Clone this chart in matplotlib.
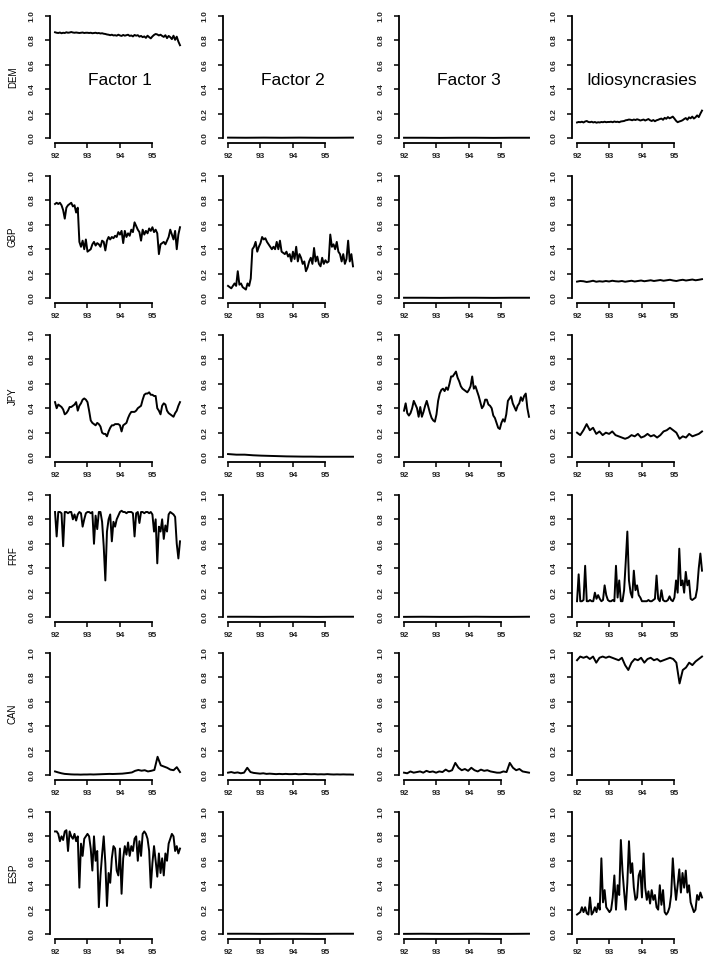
import numpy as np
import matplotlib
matplotlib.use("Agg")
import matplotlib.pyplot as plt

plt.rcParams["font.family"] = ["Liberation Sans", "DejaVu Sans"]

# ---------------------------------------------------------------------------
# data: variance shares 1992 .. end of 1995, one list per panel
# (long lists are sampled every 0.05 year, short ones are coarser)
# ---------------------------------------------------------------------------
currencies = ["DEM", "GBP", "JPY", "FRF", "CAN", "ESP"]
col_titles = ["Factor 1", "Factor 2", "Factor 3", "Idiosyncrasies"]
year_ticks = [92, 93, 94, 95]
year_labels = ["92", "93", "94", "95"]
value_ticks = [0.0, 0.2, 0.4, 0.6, 0.8, 1.0]
value_labels = ["0.0", "0.2", "0.4", "0.6", "0.8", "1.0"]
t_start, t_end = 92.0, 95.85

dem_f1 = [0.866, 0.862, 0.860, 0.864, 0.858, 0.862, 0.860, 0.866, 0.862, 0.864,
          0.868, 0.864, 0.862, 0.864, 0.862, 0.860, 0.862, 0.864, 0.860, 0.862,
          0.862, 0.860, 0.862, 0.858, 0.860, 0.862, 0.858, 0.860, 0.856, 0.858,
          0.854, 0.852, 0.848, 0.846, 0.842, 0.846, 0.840, 0.842, 0.838, 0.846,
          0.840, 0.836, 0.844, 0.838, 0.842, 0.846, 0.836, 0.840, 0.832, 0.844,
          0.838, 0.842, 0.830, 0.836, 0.826, 0.832, 0.820, 0.838, 0.826, 0.816,
          0.832, 0.844, 0.852, 0.848, 0.840, 0.846, 0.836, 0.828, 0.842, 0.818,
          0.836, 0.826, 0.810, 0.838, 0.804, 0.830, 0.790, 0.760]
dem_f2 = [0.004, 0.003, 0.004, 0.003, 0.004, 0.003, 0.003, 0.004]
dem_f3 = [0.003, 0.003, 0.002, 0.003, 0.003, 0.002, 0.003, 0.003]
dem_id = [0.128, 0.132, 0.130, 0.134, 0.128, 0.136, 0.140, 0.132, 0.130, 0.134,
          0.128, 0.132, 0.126, 0.130, 0.128, 0.132, 0.130, 0.134, 0.130, 0.132,
          0.132, 0.134, 0.130, 0.136, 0.132, 0.134, 0.130, 0.136, 0.138, 0.140,
          0.146, 0.148, 0.152, 0.150, 0.146, 0.152, 0.148, 0.154, 0.150, 0.144,
          0.148, 0.152, 0.144, 0.150, 0.156, 0.146, 0.140, 0.148, 0.138, 0.146,
          0.150, 0.156, 0.160, 0.150, 0.166, 0.158, 0.172, 0.162, 0.168, 0.176,
          0.160, 0.142, 0.130, 0.136, 0.140, 0.146, 0.156, 0.164, 0.150, 0.170,
          0.162, 0.176, 0.160, 0.170, 0.186, 0.172, 0.200, 0.225]

gbp_f1 = [0.77, 0.78, 0.77, 0.78, 0.76, 0.72, 0.65, 0.74, 0.76, 0.77,
          0.78, 0.75, 0.76, 0.70, 0.74, 0.46, 0.42, 0.47, 0.40, 0.48,
          0.38, 0.39, 0.40, 0.44, 0.46, 0.43, 0.45, 0.44, 0.42, 0.47,
          0.46, 0.39, 0.47, 0.50, 0.48, 0.50, 0.49, 0.51, 0.50, 0.54,
          0.52, 0.55, 0.45, 0.55, 0.50, 0.53, 0.51, 0.56, 0.54, 0.62,
          0.59, 0.56, 0.54, 0.47, 0.56, 0.52, 0.55, 0.53, 0.57, 0.55,
          0.58, 0.54, 0.56, 0.53, 0.36, 0.44, 0.45, 0.46, 0.44, 0.47,
          0.50, 0.56, 0.52, 0.48, 0.55, 0.40, 0.52, 0.58]
gbp_f2 = [0.10, 0.09, 0.08, 0.10, 0.12, 0.10, 0.22, 0.11, 0.12, 0.09,
          0.08, 0.07, 0.12, 0.10, 0.16, 0.40, 0.42, 0.46, 0.38, 0.42,
          0.45, 0.50, 0.48, 0.49, 0.46, 0.44, 0.42, 0.40, 0.42, 0.40,
          0.46, 0.40, 0.47, 0.38, 0.37, 0.36, 0.38, 0.34, 0.36, 0.30,
          0.38, 0.32, 0.42, 0.30, 0.36, 0.33, 0.28, 0.30, 0.22, 0.25,
          0.30, 0.33, 0.28, 0.41, 0.30, 0.34, 0.28, 0.26, 0.33, 0.28,
          0.31, 0.29, 0.30, 0.52, 0.42, 0.44, 0.40, 0.46, 0.38, 0.36,
          0.30, 0.36, 0.28, 0.32, 0.47, 0.30, 0.36, 0.26]
gbp_f3 = [0.003, 0.003, 0.002, 0.003, 0.003, 0.002, 0.003, 0.003]
gbp_id = [0.135, 0.140, 0.138, 0.132, 0.136, 0.142, 0.134, 0.138, 0.135, 0.140,
          0.136, 0.142, 0.138, 0.136, 0.140, 0.134, 0.138, 0.142, 0.136, 0.140,
          0.144, 0.138, 0.142, 0.146, 0.140, 0.144, 0.148, 0.142, 0.146, 0.150,
          0.144, 0.140, 0.146, 0.150, 0.144, 0.148, 0.152, 0.146, 0.150, 0.155]

jpy_f1 = [0.45, 0.40, 0.43, 0.42, 0.41, 0.39, 0.35, 0.36, 0.38, 0.41,
          0.41, 0.42, 0.43, 0.45, 0.38, 0.42, 0.44, 0.47, 0.48, 0.47,
          0.45, 0.38, 0.30, 0.28, 0.27, 0.26, 0.28, 0.27, 0.25, 0.20,
          0.19, 0.19, 0.17, 0.21, 0.24, 0.26, 0.26, 0.27, 0.27, 0.27,
          0.26, 0.21, 0.26, 0.27, 0.28, 0.32, 0.35, 0.37, 0.37, 0.37,
          0.38, 0.40, 0.41, 0.42, 0.47, 0.51, 0.52, 0.52, 0.53, 0.51,
          0.51, 0.50, 0.50, 0.40, 0.38, 0.35, 0.42, 0.44, 0.43, 0.38,
          0.36, 0.35, 0.34, 0.33, 0.36, 0.38, 0.42, 0.45]
jpy_f2 = [0.025, 0.020, 0.020, 0.015, 0.012, 0.010, 0.008, 0.006,
          0.005, 0.004, 0.004, 0.003, 0.003, 0.003, 0.003, 0.003]
jpy_f3 = [0.38, 0.44, 0.36, 0.34, 0.36, 0.40, 0.46, 0.43, 0.40, 0.33,
          0.41, 0.33, 0.37, 0.42, 0.46, 0.41, 0.36, 0.32, 0.30, 0.29,
          0.35, 0.46, 0.52, 0.55, 0.56, 0.54, 0.57, 0.55, 0.60, 0.66,
          0.66, 0.68, 0.70, 0.65, 0.62, 0.58, 0.56, 0.55, 0.54, 0.53,
          0.55, 0.58, 0.66, 0.56, 0.58, 0.54, 0.50, 0.45, 0.40, 0.42,
          0.47, 0.47, 0.43, 0.42, 0.40, 0.34, 0.32, 0.28, 0.24, 0.23,
          0.28, 0.31, 0.29, 0.35, 0.46, 0.48, 0.50, 0.44, 0.41, 0.38,
          0.42, 0.44, 0.49, 0.46, 0.50, 0.52, 0.40, 0.33]
jpy_id = [0.20, 0.18, 0.22, 0.27, 0.22, 0.24, 0.19, 0.21, 0.18, 0.20,
          0.19, 0.21, 0.18, 0.17, 0.16, 0.15, 0.16, 0.18, 0.17, 0.19,
          0.16, 0.17, 0.19, 0.17, 0.18, 0.16, 0.18, 0.21, 0.22, 0.24,
          0.22, 0.20, 0.15, 0.17, 0.16, 0.19, 0.17, 0.18, 0.19, 0.21]

frf_f1 = [0.86, 0.66, 0.86, 0.86, 0.85, 0.58, 0.86, 0.86, 0.85, 0.86,
          0.86, 0.80, 0.84, 0.79, 0.84, 0.86, 0.85, 0.74, 0.80, 0.85,
          0.86, 0.86, 0.85, 0.86, 0.60, 0.83, 0.72, 0.86, 0.86, 0.78,
          0.58, 0.30, 0.70, 0.80, 0.84, 0.62, 0.78, 0.74, 0.80, 0.83,
          0.86, 0.87, 0.86, 0.86, 0.85, 0.86, 0.86, 0.86, 0.85, 0.66,
          0.85, 0.86, 0.77, 0.86, 0.86, 0.85, 0.86, 0.86, 0.85, 0.86,
          0.84, 0.70, 0.80, 0.44, 0.74, 0.70, 0.80, 0.64, 0.75, 0.70,
          0.84, 0.86, 0.85, 0.84, 0.82, 0.60, 0.48, 0.62]
frf_f2 = [0.003, 0.003, 0.002, 0.003, 0.003, 0.002, 0.003, 0.003]
frf_f3 = [0.002, 0.003, 0.002, 0.002, 0.003, 0.002, 0.002, 0.003]
frf_id = [0.13, 0.35, 0.13, 0.13, 0.14, 0.42, 0.13, 0.13, 0.14, 0.13,
          0.13, 0.20, 0.15, 0.18, 0.15, 0.13, 0.14, 0.26, 0.18, 0.14,
          0.13, 0.13, 0.14, 0.13, 0.42, 0.16, 0.30, 0.13, 0.13, 0.22,
          0.45, 0.70, 0.30, 0.20, 0.16, 0.38, 0.22, 0.26, 0.18, 0.16,
          0.13, 0.13, 0.13, 0.13, 0.14, 0.13, 0.13, 0.14, 0.15, 0.34,
          0.15, 0.13, 0.22, 0.14, 0.13, 0.13, 0.14, 0.17, 0.14, 0.13,
          0.16, 0.30, 0.20, 0.56, 0.26, 0.30, 0.20, 0.37, 0.26, 0.30,
          0.15, 0.14, 0.15, 0.16, 0.23, 0.40, 0.52, 0.38]

can_f1 = [0.030, 0.022, 0.015, 0.010, 0.008, 0.006, 0.005, 0.005, 0.004, 0.005,
          0.005, 0.006, 0.005, 0.006, 0.007, 0.008, 0.009, 0.010, 0.009, 0.010,
          0.011, 0.012, 0.015, 0.018, 0.022, 0.035, 0.042, 0.036, 0.040, 0.030,
          0.035, 0.042, 0.150, 0.080, 0.070, 0.060, 0.045, 0.040, 0.065, 0.025]
can_f2 = [0.020, 0.025, 0.018, 0.022, 0.015, 0.020, 0.060, 0.025, 0.018, 0.015,
          0.012, 0.015, 0.010, 0.012, 0.010, 0.008, 0.010, 0.008, 0.010, 0.008,
          0.008, 0.010, 0.007, 0.008, 0.010, 0.008, 0.007, 0.008, 0.006, 0.007,
          0.006, 0.008, 0.006, 0.005, 0.006, 0.005, 0.006, 0.005, 0.005, 0.004]
can_f3 = [0.020, 0.015, 0.030, 0.020, 0.025, 0.030, 0.020, 0.035, 0.025, 0.030,
          0.020, 0.030, 0.025, 0.045, 0.030, 0.040, 0.100, 0.060, 0.040, 0.050,
          0.035, 0.060, 0.040, 0.030, 0.045, 0.035, 0.040, 0.030, 0.025, 0.020,
          0.020, 0.030, 0.025, 0.100, 0.060, 0.040, 0.050, 0.030, 0.025, 0.020]
can_id = [0.94, 0.97, 0.96, 0.97, 0.95, 0.97, 0.92, 0.96, 0.97, 0.96,
          0.97, 0.96, 0.95, 0.94, 0.96, 0.90, 0.86, 0.92, 0.95, 0.94,
          0.96, 0.92, 0.95, 0.96, 0.94, 0.95, 0.93, 0.94, 0.95, 0.96,
          0.95, 0.92, 0.75, 0.86, 0.88, 0.92, 0.90, 0.93, 0.95, 0.97]

esp_f1 = [0.84, 0.84, 0.82, 0.76, 0.80, 0.77, 0.84, 0.85, 0.68, 0.84,
          0.80, 0.78, 0.82, 0.76, 0.80, 0.38, 0.74, 0.64, 0.78, 0.80,
          0.82, 0.80, 0.70, 0.52, 0.80, 0.60, 0.68, 0.22, 0.48, 0.65,
          0.80, 0.58, 0.23, 0.50, 0.42, 0.62, 0.72, 0.70, 0.52, 0.48,
          0.70, 0.33, 0.62, 0.72, 0.65, 0.75, 0.64, 0.72, 0.68, 0.78,
          0.80, 0.60, 0.76, 0.64, 0.82, 0.84, 0.82, 0.78, 0.68, 0.38,
          0.58, 0.72, 0.60, 0.47, 0.66, 0.50, 0.62, 0.48, 0.66, 0.60,
          0.74, 0.78, 0.82, 0.80, 0.68, 0.72, 0.66, 0.70]
esp_f2 = [0.003, 0.003, 0.002, 0.003, 0.003, 0.002, 0.003, 0.003]
esp_f3 = [0.002, 0.003, 0.002, 0.002, 0.003, 0.002, 0.002, 0.003]
esp_id = [0.16, 0.17, 0.18, 0.22, 0.18, 0.22, 0.17, 0.16, 0.30, 0.16,
          0.18, 0.22, 0.18, 0.25, 0.20, 0.62, 0.26, 0.36, 0.22, 0.20,
          0.18, 0.20, 0.30, 0.48, 0.20, 0.40, 0.32, 0.77, 0.52, 0.35,
          0.20, 0.42, 0.76, 0.50, 0.58, 0.38, 0.28, 0.30, 0.48, 0.52,
          0.30, 0.66, 0.38, 0.28, 0.35, 0.25, 0.36, 0.28, 0.32, 0.22,
          0.20, 0.40, 0.24, 0.36, 0.18, 0.16, 0.18, 0.22, 0.32, 0.62,
          0.42, 0.28, 0.40, 0.53, 0.34, 0.50, 0.38, 0.52, 0.34, 0.40,
          0.26, 0.22, 0.18, 0.20, 0.32, 0.28, 0.34, 0.30]

panels = [
    [dem_f1, dem_f2, dem_f3, dem_id],
    [gbp_f1, gbp_f2, gbp_f3, gbp_id],
    [jpy_f1, jpy_f2, jpy_f3, jpy_id],
    [frf_f1, frf_f2, frf_f3, frf_id],
    [can_f1, can_f2, can_f3, can_id],
    [esp_f1, esp_f2, esp_f3, esp_id],
]

# ---------------------------------------------------------------------------
# layout (pixels of the 721 x 974 page)
# ---------------------------------------------------------------------------
W, H = 721, 974
col_left = [50, 223, 399, 572]
row_top = [11, 171, 330, 490, 648, 807]
ax_w, ax_h = 136, 132

fig = plt.figure(figsize=(W / 100, H / 100), dpi=100)
fig.patch.set_facecolor("white")


def r_style(ax):
    """base-R look: detached left/bottom axes only spanning the ticks"""
    ax.set_xlim(91.845, 96.035)
    ax.set_ylim(-0.04, 1.04)
    for side in ["top", "right"]:
        ax.spines[side].set_visible(False)
    ax.spines["left"].set_bounds(0, 1)
    ax.spines["bottom"].set_bounds(92, 95)
    for side in ["left", "bottom"]:
        ax.spines[side].set_linewidth(1.3)
    ax.set_yticks(value_ticks)
    ax.set_yticklabels(value_labels, rotation=90, va="center", fontsize=6,
                       fontweight="bold", color="#222222")
    ax.set_xticks(year_ticks)
    ax.set_xticklabels(year_labels, fontsize=6, fontweight="bold",
                       color="#222222")
    ax.tick_params(axis="y", length=3.5, width=1.1, pad=7)
    ax.tick_params(axis="x", length=3.5, width=1.1, pad=4)
    ax.patch.set_visible(False)


for r, row in enumerate(panels):
    for c, vals in enumerate(row):
        left = col_left[c] / W
        bottom = 1 - (row_top[r] + ax_h) / H
        ax = fig.add_axes([left, bottom, ax_w / W, ax_h / H])
        t = np.linspace(t_start, t_end, len(vals))
        ax.plot(t, vals, color="black", lw=1.4)
        r_style(ax)
        if r == 0:
            ax.text(94.0, 0.47, col_titles[c], ha="center", va="center",
                    fontsize=12.5)
        if c == 0:
            fig.text(13 / W, 1 - (row_top[r] + ax_h / 2) / H, currencies[r],
                     rotation=90, ha="center", va="center", fontsize=7)

fig.savefig("out.png", dpi=100)
